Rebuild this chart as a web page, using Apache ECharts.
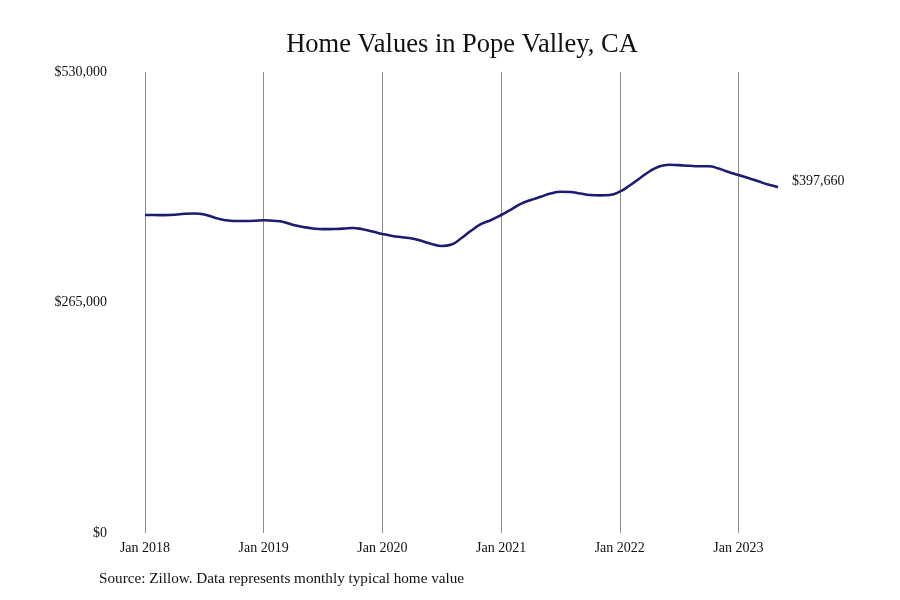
<!DOCTYPE html>
<html><head><meta charset="utf-8">
<script src="https://cdn.jsdelivr.net/npm/echarts@6/dist/echarts.min.js"></script>
<style>html,body{margin:0;padding:0;background:#fff}#c{width:900px;height:600px}</style>
</head><body><div id="c"></div>
<script>
const months = [];
const years = [2018,2019,2020,2021,2022,2023];
const monthNames = ['Jan','Feb','Mar','Apr','May','Jun','Jul','Aug','Sep','Oct','Nov','Dec'];
for (const y of years) for (const m of monthNames) { if (y===2023 && monthNames.indexOf(m)>4) break; months.push(m+' '+y); }
const values = [
 365600,365600,365400,365800,367000,367300,366200,362700,359900,358700,358700,358900,
 359600,358900,357600,354100,351800,350100,349300,349500,349900,350700,349200,346700,
 343800,341500,340000,338600,335700,332300,330000,331700,339200,347800,355300,359900,
 365600,371900,378300,382800,386500,390300,392400,392000,390300,388600,388200,388600,
 392400,399500,407600,415600,421400,423400,422900,422200,421600,421700,419000,415000,
 411600,408100,404300,400600,397660
];
const yTicks = [0,265000,530000];
const font = 'Liberation Serif';
const chart = echarts.init(document.getElementById('c'));
chart.setOption({
  animation:false,
  title:{text:'Home Values in Pope Valley, CA',left:457,textAlign:'center',top:27,textStyle:{fontFamily:font,fontSize:26.5,fontWeight:'normal',color:'#111'}},
  graphic:[{type:'text',left:99,top:572,style:{text:'Source: Zillow. Data represents monthly typical home value',font:'15.2px "Liberation Serif"',fill:'#111'}}],
  grid:{left:145,right:122,top:72,bottom:67},
  xAxis:{type:'category',data:months,boundaryGap:false,
    axisLine:{show:false},axisTick:{show:false},
    axisLabel:{interval:(i)=>i%12===0,fontFamily:font,fontSize:14,color:'#111',margin:8},
    splitLine:{show:true,interval:(i)=>i%12===0,lineStyle:{color:'#8c8c8c',width:1}}},
  yAxis:{type:'value',min:0,max:530000,interval:265000,
    axisLine:{show:false},axisTick:{show:false},splitLine:{show:false},
    axisLabel:{fontFamily:font,fontSize:14,color:'#111',margin:38,
      formatter:v=>'$'+v.toLocaleString('en-US')}},
  series:[{type:'line',data:values,smooth:true,symbol:'none',
    lineStyle:{color:'#1c1c72',width:2.6},
    endLabel:{show:true,formatter:p=>'$'+p.value.toLocaleString('en-US'),fontFamily:font,fontSize:14,color:'#111',distance:14,offset:[0,-6]}}]
});
</script></body></html>
